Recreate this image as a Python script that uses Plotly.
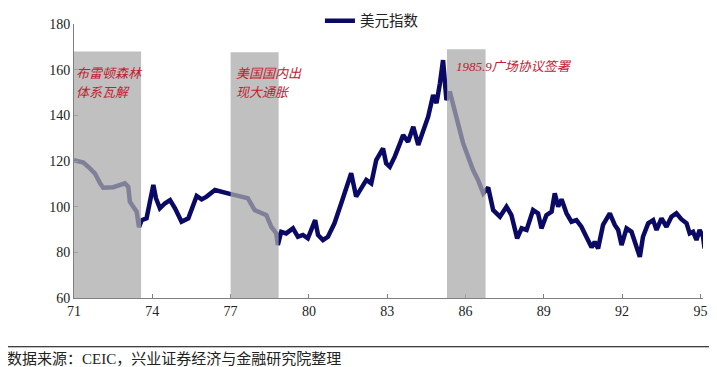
import plotly.graph_objects as go

years = [71.0, 71.36, 71.61, 71.80, 72.0, 72.12, 72.5, 72.95, 73.08, 73.14, 73.27, 73.40, 73.49, 73.59,
         73.78, 73.91, 74.04, 74.14, 74.29, 74.49, 74.68, 74.87, 75.12, 75.38, 75.57, 75.70, 75.89,
         76.08, 76.40, 76.72, 76.97, 77.41, 77.66, 77.92, 78.17, 78.37, 78.56, 78.75, 78.81, 78.94,
         79.13, 79.39, 79.58, 79.77, 79.96, 80.24, 80.35, 80.54, 80.73, 80.98, 81.24, 81.49, 81.62,
         81.81, 82.0, 82.2, 82.39, 82.58, 82.84, 82.96, 83.10, 83.29, 83.49, 83.61, 83.80, 84.0,
         84.19, 84.38, 84.57, 84.76, 84.89, 85.02, 85.14, 85.21, 85.27, 85.40, 85.59, 85.72, 85.91,
         86.10, 86.29, 86.48, 86.68, 86.87, 87.06, 87.32, 87.57, 87.76, 87.98, 88.15, 88.34, 88.59,
         88.78, 88.91, 89.10, 89.30, 89.42, 89.55, 89.68, 89.87, 90.06, 90.25, 90.44, 90.63, 90.83,
         90.95, 91.08, 91.27, 91.53, 91.72, 91.85, 91.98, 92.17, 92.36, 92.55, 92.68, 92.80, 93.0,
         93.19, 93.32, 93.51, 93.70, 93.89, 94.08, 94.27, 94.47, 94.59, 94.72, 94.85, 94.97, 95.10,
         95.16]
usd_index = [120.4, 119.3, 116.8, 114.6, 110.2, 108.3, 108.5, 110.2, 108.7, 102.2, 100.0, 97.8, 91.0, 94.1,
             94.9, 101.5, 109.5, 103.7, 99.3, 101.5, 102.9, 99.3, 93.4, 94.9, 100.7, 104.7, 103.2,
             104.4, 107.3, 106.1, 105.6, 104.4, 103.7, 98.5, 97.1, 96.3, 91.2, 88.3, 83.2, 89.0,
             88.3, 90.5, 86.8, 87.6, 86.1, 94.1, 87.6, 85.4, 86.8, 92.7, 101.5, 110.2, 114.6,
             104.4, 108.0, 111.7, 110.2, 120.4, 125.5, 119.0, 117.5, 121.9, 127.7, 131.4, 128.4, 135.0,
             127.0, 132.8, 139.4, 148.9, 145.3, 154.0, 164.2, 154.7, 146.7, 150.4, 142.3, 135.0, 127.7,
             121.9, 116.0, 111.7, 105.8, 108.4, 98.5, 95.6, 100.0, 96.3, 86.1, 90.5, 89.8, 98.5,
             97.1, 90.5, 96.3, 97.8, 105.8, 100.0, 103.2, 97.1, 93.4, 94.1, 91.2, 86.8, 82.2,
             84.6, 81.7, 92.0, 97.1, 92.0, 89.8, 83.2, 90.5, 89.0, 82.4, 78.0, 86.8, 92.7,
             94.1, 89.8, 94.9, 91.2, 95.6, 97.1, 94.5, 92.7, 88.3, 89.0, 85.4, 89.8, 86.8,
             81.7]

period_start = [71.0, 77.0, 85.29]
period_end = [73.57, 78.84, 86.77]
period_top = [168.0, 167.6, 168.9]

label_lines = ["布雷顿森林", "体系瓦解", "美国国内出", "现大通胀", "1985.9广场协议签署"]
label_x = [71.05, 71.05, 77.15, 77.15, 85.58]
label_y = [158.5, 150.2, 158.5, 150.2, 161.3]

tick_vals = [71, 74, 77, 80, 83, 86, 89, 92, 95]
tick_text = ["71", "74", "77", "80", "83", "86", "89", "92", "95"]

navy = "#0a0a66"
red = "#c0202f"
serif = "Liberation Serif, Times New Roman, serif"
mixed = "Liberation Serif, Noto Sans CJK SC"
cjk = "Noto Sans CJK SC"

fig = go.Figure()
fig.add_trace(go.Scatter(x=years, y=usd_index, mode="lines", name="美元指数",
                         line=dict(color=navy, width=4.5)))

for x0, x1, top in zip(period_start, period_end, period_top):
    fig.add_shape(type="rect", xref="x", yref="y", x0=x0, x1=x1, y0=60, y1=top,
                  fillcolor="rgba(170,170,170,0.74)", line=dict(width=0), layer="above")

for lx, ly, txt in zip(label_x, label_y, label_lines):
    fig.add_annotation(x=lx, y=ly, xref="x", yref="y", text="<i>" + txt + "</i>",
                       showarrow=False, xanchor="left", yanchor="middle", align="left",
                       borderpad=0, font=dict(family=mixed, size=13, color=red))

# source line and text
fig.add_shape(type="line", xref="paper", yref="paper", x0=-0.12, x1=1.03, y0=-0.178, y1=-0.178,
              line=dict(color="black", width=1.2))
fig.add_annotation(x=-0.11, y=-0.219, xref="paper", yref="paper",
                   text="数据来源：CEIC，兴业证券经济与金融研究院整理", showarrow=False,
                   xanchor="left", yanchor="middle", font=dict(family=mixed, size=15, color="#222"))

# page has an 8px body margin, so the figure is sized/offset to compensate
fig.update_layout(
    width=709, height=359,
    margin=dict(l=66, r=14, t=16, b=69, autoexpand=False),
    paper_bgcolor="white", plot_bgcolor="white",
    showlegend=True,
    legend=dict(orientation="h", x=0.391, y=1.012, xanchor="left", yanchor="middle",
                font=dict(family=cjk, size=14.5, color="#222"), bgcolor="rgba(0,0,0,0)"),
    font=dict(family=serif, size=14, color="#222"),
)
fig.update_xaxes(range=[71, 95.1], tickvals=tick_vals, ticktext=tick_text,
                 showgrid=False, zeroline=False, showline=True, linecolor="#808080", linewidth=1,
                 ticks="inside", ticklen=4, tickcolor="#808080",
                 tickfont=dict(family=serif, size=14, color="#222"))
fig.update_yaxes(range=[60, 180], dtick=20, showgrid=False, zeroline=False, showline=True,
                 linecolor="#808080", linewidth=1, ticks="inside", ticklen=4, tickcolor="#808080",
                 tickfont=dict(family=serif, size=14, color="#222"))

fig.write_html("out.html")
